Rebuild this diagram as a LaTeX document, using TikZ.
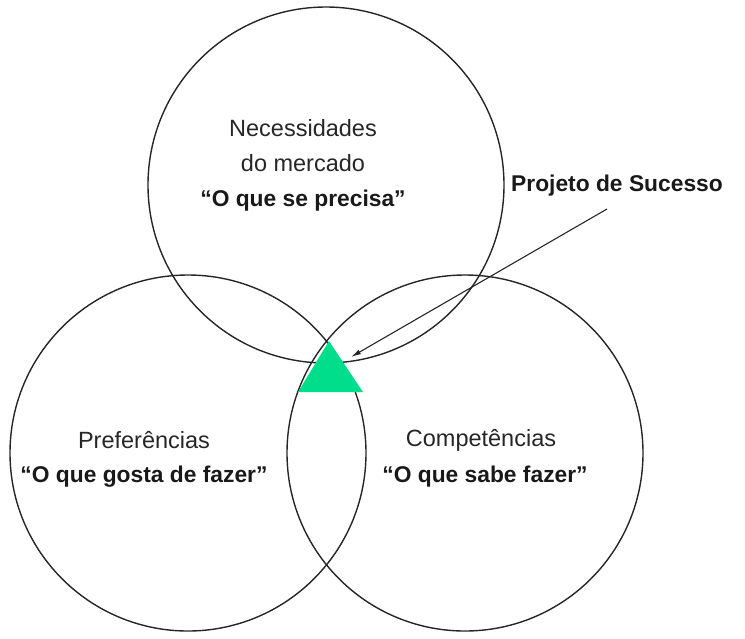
\documentclass[tikz,border=0pt]{standalone}
\usepackage{fontspec}
\setmainfont{Liberation Sans}
\usetikzlibrary{arrows.meta}
\definecolor{tgreen}{RGB}{0,222,140}
\begin{document}
\begin{tikzpicture}[x=1pt,y=-1pt,
  ring/.style={circle,draw=black!85,line width=1.4pt,minimum size=356pt,inner sep=0pt},
  lbl/.style={align=center,font=\fontsize{23.5}{35}\selectfont,text=black!85},
  blbl/.style={font=\fontsize{22.8}{26}\selectfont\bfseries,text=black!90}]
\useasboundingbox (0,0) rectangle (745,638);
\node[ring] (top) at (326,185) {};
\node[ring] (left) at (188,453) {};
\node[ring] (right) at (465,453) {};
\fill[tgreen] (298,392) coordinate (tl) -- (363,392) coordinate (tr) -- (329,341) coordinate (ta) -- cycle;
\coordinate (tip) at (351,357);
\node[lbl] (n1) at (303,146) {Necessidades\\do mercado};
\node[blbl] (n2) at (303,201) {“O que se precisa”};
\node[lbl] (p1) at (144,440) {Preferências};
\node[blbl] (p2) at (144,477) {“O que gosta de fazer”};
\node[lbl] (c1) at (481,440) {Competências};
\node[blbl] (c2) at (485,477) {“O que sabe fazer”};
\node[blbl] (ps) at (617,186) {Projeto de Sucesso};
\coordinate (as) at (607,209);
\draw[line width=1.1pt,black!85,-{Latex[length=10pt,width=5pt]}] (as) -- (tip);
\end{tikzpicture}
\end{document}
